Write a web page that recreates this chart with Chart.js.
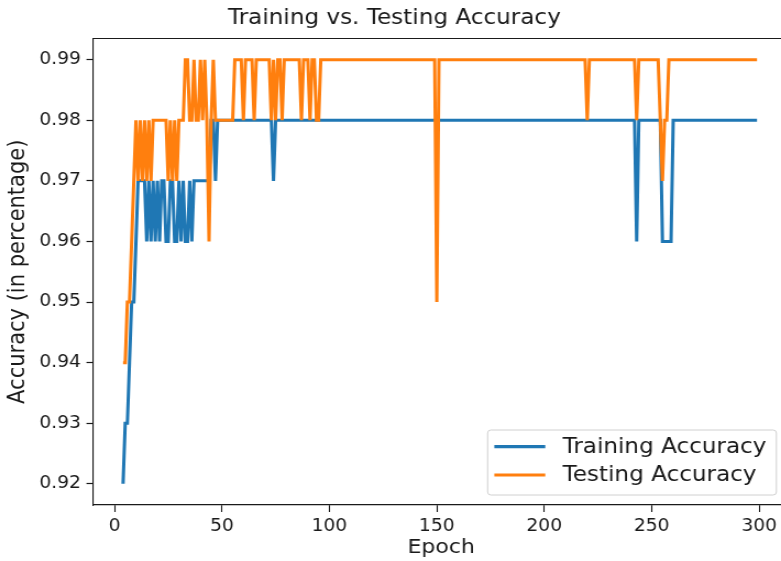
<!DOCTYPE html>
<html>
<head>
<meta charset="utf-8">
<title>Training vs. Testing Accuracy</title>
<script src="https://cdn.jsdelivr.net/npm/chart.js@4.4.1/dist/chart.umd.min.js"></script>
<style>
  html, body { margin: 0; padding: 0; background: #fff; overflow: hidden; }
  /* the source picture is stretched a little horizontally */
  #wrap { position: absolute; left: 0; top: 0; width: 717px; height: 561px; transform: scaleX(1.1); transform-origin: 0 0; }
</style>
</head>
<body>
<div id="wrap"><canvas id="chart" width="717" height="561"></canvas></div>
<script>
// epochs 4 .. 299
const epochs = [];
for (let e = 4; e <= 299; e++) epochs.push(e);

const trainAcc = [
  0.92,0.93,0.93,0.94,0.95,0.95,0.96,0.97,0.97,0.97, // 4
  0.97,0.96,0.97,0.96,0.97,0.96,0.97,0.96,0.97,0.97, // 14
  0.96,0.96,0.97,0.97,0.96,0.96,0.97,0.96,0.97,0.96, // 24
  0.96,0.97,0.96,0.97,0.97,0.97,0.97,0.97,0.97,0.97, // 34
  0.97,0.98,0.98,0.97,0.98,0.98,0.98,0.98,0.98,0.98, // 44
  0.98,0.98,0.98,0.98,0.98,0.98,0.98,0.98,0.98,0.98, // 54
  0.98,0.98,0.98,0.98,0.98,0.98,0.98,0.98,0.98,0.98, // 64
  0.97,0.98,0.98,0.98,0.98,0.98,0.98,0.98,0.98,0.98, // 74
  0.98,0.98,0.98,0.98,0.98,0.98,0.98,0.98,0.98,0.98, // 84
  0.98,0.98,0.98,0.98,0.98,0.98,0.98,0.98,0.98,0.98, // 94
  0.98,0.98,0.98,0.98,0.98,0.98,0.98,0.98,0.98,0.98, // 104
  0.98,0.98,0.98,0.98,0.98,0.98,0.98,0.98,0.98,0.98, // 114
  0.98,0.98,0.98,0.98,0.98,0.98,0.98,0.98,0.98,0.98, // 124
  0.98,0.98,0.98,0.98,0.98,0.98,0.98,0.98,0.98,0.98, // 134
  0.98,0.98,0.98,0.98,0.98,0.98,0.98,0.98,0.98,0.98, // 144
  0.98,0.98,0.98,0.98,0.98,0.98,0.98,0.98,0.98,0.98, // 154
  0.98,0.98,0.98,0.98,0.98,0.98,0.98,0.98,0.98,0.98, // 164
  0.98,0.98,0.98,0.98,0.98,0.98,0.98,0.98,0.98,0.98, // 174
  0.98,0.98,0.98,0.98,0.98,0.98,0.98,0.98,0.98,0.98, // 184
  0.98,0.98,0.98,0.98,0.98,0.98,0.98,0.98,0.98,0.98, // 194
  0.98,0.98,0.98,0.98,0.98,0.98,0.98,0.98,0.98,0.98, // 204
  0.98,0.98,0.98,0.98,0.98,0.98,0.98,0.98,0.98,0.98, // 214
  0.98,0.98,0.98,0.98,0.98,0.98,0.98,0.98,0.98,0.98, // 224
  0.98,0.98,0.98,0.98,0.98,0.98,0.98,0.98,0.98,0.96, // 234
  0.98,0.98,0.98,0.98,0.98,0.98,0.98,0.98,0.98,0.98, // 244
  0.98,0.96,0.96,0.96,0.96,0.96,0.98,0.98,0.98,0.98, // 254
  0.98,0.98,0.98,0.98,0.98,0.98,0.98,0.98,0.98,0.98, // 264
  0.98,0.98,0.98,0.98,0.98,0.98,0.98,0.98,0.98,0.98, // 274
  0.98,0.98,0.98,0.98,0.98,0.98,0.98,0.98,0.98,0.98, // 284
  0.98,0.98,0.98,0.98,0.98,0.98                      // 294
];

const testAcc = [
  0.94,0.94,0.95,0.95,0.96,0.97,0.98,0.97,0.98,0.97, // 4
  0.98,0.97,0.98,0.97,0.98,0.98,0.98,0.98,0.98,0.98, // 14
  0.98,0.97,0.98,0.97,0.98,0.97,0.98,0.98,0.98,0.99, // 24
  0.99,0.98,0.98,0.99,0.98,0.98,0.99,0.98,0.99,0.98, // 34
  0.96,0.98,0.99,0.98,0.98,0.98,0.98,0.98,0.98,0.98, // 44
  0.98,0.98,0.99,0.99,0.99,0.99,0.98,0.99,0.99,0.99, // 54
  0.99,0.98,0.99,0.99,0.99,0.99,0.99,0.99,0.99,0.98, // 64
  0.99,0.98,0.99,0.99,0.98,0.99,0.99,0.99,0.99,0.99, // 74
  0.99,0.99,0.99,0.98,0.99,0.99,0.99,0.98,0.99,0.99, // 84
  0.98,0.98,0.99,0.99,0.99,0.99,0.99,0.99,0.99,0.99, // 94
  0.99,0.99,0.99,0.99,0.99,0.99,0.99,0.99,0.99,0.99, // 104
  0.99,0.99,0.99,0.99,0.99,0.99,0.99,0.99,0.99,0.99, // 114
  0.99,0.99,0.99,0.99,0.99,0.99,0.99,0.99,0.99,0.99, // 124
  0.99,0.99,0.99,0.99,0.99,0.99,0.99,0.99,0.99,0.99, // 134
  0.99,0.99,0.99,0.99,0.99,0.99,0.95,0.99,0.99,0.99, // 144
  0.99,0.99,0.99,0.99,0.99,0.99,0.99,0.99,0.99,0.99, // 154
  0.99,0.99,0.99,0.99,0.99,0.99,0.99,0.99,0.99,0.99, // 164
  0.99,0.99,0.99,0.99,0.99,0.99,0.99,0.99,0.99,0.99, // 174
  0.99,0.99,0.99,0.99,0.99,0.99,0.99,0.99,0.99,0.99, // 184
  0.99,0.99,0.99,0.99,0.99,0.99,0.99,0.99,0.99,0.99, // 194
  0.99,0.99,0.99,0.99,0.99,0.99,0.99,0.99,0.99,0.99, // 204
  0.99,0.99,0.99,0.99,0.99,0.99,0.98,0.99,0.99,0.99, // 214
  0.99,0.99,0.99,0.99,0.99,0.99,0.99,0.99,0.99,0.99, // 224
  0.99,0.99,0.99,0.99,0.99,0.99,0.99,0.99,0.99,0.98, // 234
  0.99,0.99,0.99,0.99,0.99,0.99,0.99,0.99,0.99,0.99, // 244
  0.98,0.97,0.98,0.98,0.99,0.99,0.99,0.99,0.99,0.99, // 254
  0.99,0.99,0.99,0.99,0.99,0.99,0.99,0.99,0.99,0.99, // 264
  0.99,0.99,0.99,0.99,0.99,0.99,0.99,0.99,0.99,0.99, // 274
  0.99,0.99,0.99,0.99,0.99,0.99,0.99,0.99,0.99,0.99, // 284
  0.99,0.99,0.99,0.99,0.99,0.99                      // 294
];

const xTicks = [0, 50, 100, 150, 200, 250, 300];
const yTicks = [0.92, 0.93, 0.94, 0.95, 0.96, 0.97, 0.98, 0.99];

const FONT = "'DejaVu Sans', 'Liberation Sans', sans-serif";
const INK = "#1a1a1a";
Chart.defaults.font.family = FONT;

// top spine (right spine falls outside the picture)
const frame = {
  id: "frame",
  afterDraw(chart) {
    const { ctx, chartArea } = chart;
    ctx.save();
    ctx.strokeStyle = INK;
    ctx.lineWidth = 1.2;
    ctx.beginPath();
    ctx.moveTo(chartArea.left, chartArea.top);
    ctx.lineTo(chartArea.right, chartArea.top);
    ctx.lineTo(chartArea.right, chartArea.bottom);
    ctx.stroke();
    ctx.restore();
  }
};

// matplotlib style legend, lower right inside the axes
const legendBox = {
  id: "legendBox",
  afterDraw(chart) {
    const { ctx, chartArea } = chart;
    const sets = chart.data.datasets;
    ctx.save();
    ctx.font = "21px " + FONT;
    const textW = Math.max(...sets.map(d => ctx.measureText(d.label).width));
    const right = chartArea.right - 11.2;
    const bottom = chartArea.bottom - 10;
    const top = bottom - 65;
    const left = right - (6.1 + 46.3 + 15.7 + textW + 9);

    ctx.beginPath();
    ctx.roundRect(left, top, right - left, bottom - top, 3);
    ctx.fillStyle = "rgba(255,255,255,0.85)";
    ctx.fill();
    ctx.strokeStyle = "#d0d0d0";
    ctx.lineWidth = 1;
    ctx.stroke();

    sets.forEach((d, i) => {
      const y = top + 16.7 + i * 28.3;
      ctx.strokeStyle = d.borderColor;
      ctx.lineWidth = 3.2;
      ctx.beginPath();
      ctx.moveTo(left + 6.1, y);
      ctx.lineTo(left + 6.1 + 46.3, y);
      ctx.stroke();
      ctx.fillStyle = INK;
      ctx.textBaseline = "middle";
      ctx.textAlign = "left";
      ctx.fillText(d.label, left + 6.1 + 46.3 + 15.7, y + 1);
    });
    ctx.restore();
  }
};

const ctx = document.getElementById("chart").getContext("2d");

new Chart(ctx, {
  type: "line",
  data: {
    datasets: [
      {
        label: "Training Accuracy",
        data: epochs.map((e, i) => ({ x: e, y: trainAcc[i] })),
        borderColor: "#1f77b4",
        borderWidth: 3,
        pointRadius: 0,
        tension: 0,
        order: 1
      },
      {
        label: "Testing Accuracy",
        data: epochs.map((e, i) => ({ x: e, y: testAcc[i] })),
        borderColor: "#ff7f0e",
        borderWidth: 3,
        pointRadius: 0,
        tension: 0,
        order: 0
      }
    ]
  },
  options: {
    responsive: false,
    animation: false,
    devicePixelRatio: 1,
    layout: { padding: 0 },
    plugins: {
      legend: { display: false },
      tooltip: { enabled: false },
      title: {
        display: true,
        text: "Training vs. Testing Accuracy",
        color: INK,
        font: { size: 21, weight: "normal" },
        padding: { top: 6, bottom: 7.3 }
      }
    },
    scales: {
      x: {
        type: "linear",
        min: -9.75,
        max: 313.75,
        afterBuildTicks: s => { s.ticks = xTicks.map(v => ({ value: v })); },
        afterFit: s => { s.height = 56; },
        grid: { drawOnChartArea: false, tickLength: 7, tickColor: INK, tickWidth: 1.1 },
        border: { color: INK, width: 1.2 },
        ticks: {
          color: INK,
          font: { size: 17 },
          padding: 4,
          maxRotation: 0,
          autoSkip: false,
          callback: v => String(v)
        },
        title: {
          display: true,
          text: "Epoch",
          color: INK,
          font: { size: 20 },
          padding: { top: 0, bottom: 1 }
        }
      },
      y: {
        type: "linear",
        min: 0.9165,
        max: 0.9935,
        afterBuildTicks: s => { s.ticks = yTicks.map(v => ({ value: v })); },
        afterFit: s => { s.width = 85; },
        grid: { drawOnChartArea: false, tickLength: 6.4, tickColor: INK, tickWidth: 1.2 },
        border: { color: INK, width: 1.1 },
        ticks: {
          color: INK,
          font: { size: 17 },
          padding: 5,
          autoSkip: false,
          callback: v => v.toFixed(2)
        },
        title: {
          display: true,
          text: "Accuracy (in percentage)",
          color: INK,
          font: { size: 21 },
          padding: { top: 4, bottom: 0 }
        }
      }
    }
  },
  plugins: [frame, legendBox]
});
</script>
</body>
</html>
